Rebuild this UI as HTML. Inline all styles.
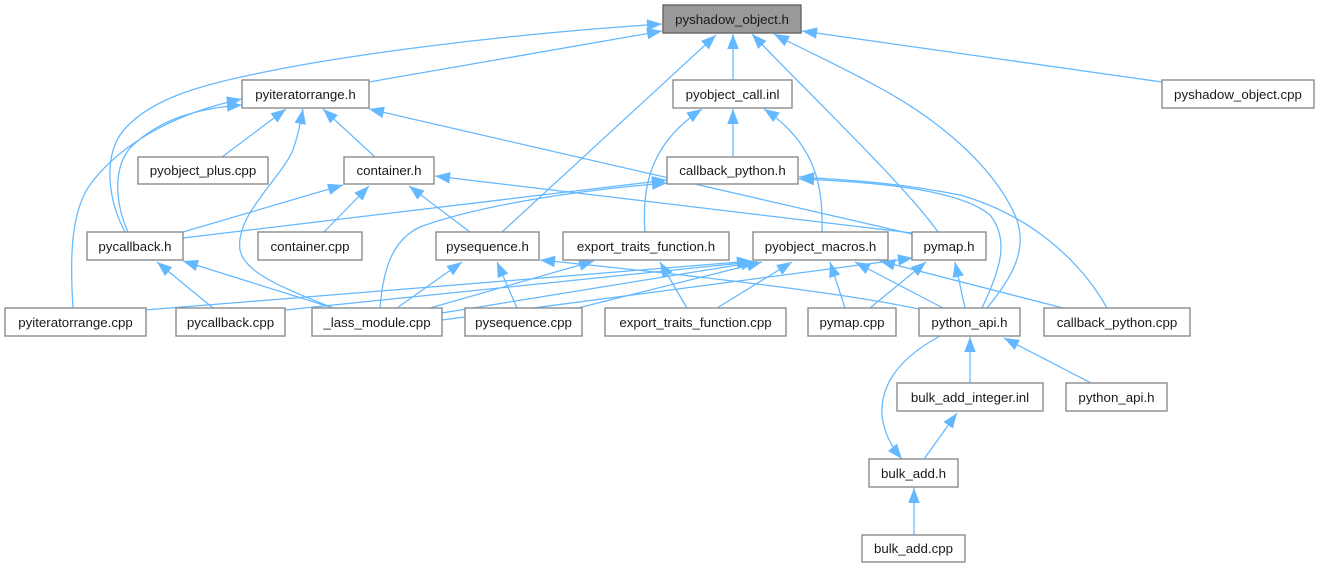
<!DOCTYPE html>
<html>
<head>
<meta charset="utf-8">
<style>
html,body{margin:0;padding:0;background:#fff;}
svg{display:block;}
text{font-family:"Liberation Sans","DejaVu Sans",sans-serif;font-size:13.3px;fill:#1a1a1a;text-anchor:middle;}
.e{fill:none;stroke:#63b8ff;stroke-width:1.25;marker-end:url(#ah);}
.b{fill:#fff;stroke:#8c8c8c;stroke-width:1.4;}
</style>
</head>
<body>
<svg width="1319" height="568" viewBox="0 0 1319 568" xmlns="http://www.w3.org/2000/svg">
<defs>
<marker id="ah" markerUnits="userSpaceOnUse" markerWidth="16" markerHeight="12" refX="15" refY="5.75" orient="auto" overflow="visible">
<path d="M0,0 L15,5.75 L0,11.5 z" fill="#63b8ff"/>
</marker>
</defs>

<!-- edges to pyshadow_object.h -->
<path class="e" d="M369,82 L662,31"/>
<path class="e" d="M125,232 C108,200 104,160 120,135 C145,100 200,85 260,73 C330,58 480,36 662,24"/>
<path class="e" d="M502,232 L716,35"/>
<path class="e" d="M733,80 L733,34"/>
<path class="e" d="M938,232 C905,185 800,85 752,34"/>
<path class="e" d="M987,308 C1010,280 1030,250 1015,215 C990,160 930,115 880,88 C840,66 800,48 774,34"/>
<path class="e" d="M1162,82 L802,31"/>

<!-- edges to pyiteratorrange.h -->
<path class="e" d="M222,157 L286,109"/>
<path class="e" d="M375,157 L323,109"/>
<path class="e" d="M333,308 C290,290 245,275 240,250 C235,215 280,180 293,150 C298,135 300,125 303,109"/>
<path class="e" d="M912,234 L369,109"/>
<path class="e" d="M128,232 C116,205 112,170 130,148 C160,118 200,108 242,105"/>
<path class="e" d="M73,308 C70,260 70,210 92,182 C125,140 180,112 242,99"/>

<!-- edges to pyobject_call.inl -->
<path class="e" d="M733,157 L733,109"/>
<path class="e" d="M645,232 C642,190 648,145 702,109"/>
<path class="e" d="M822,232 C823,190 818,145 764,109"/>

<!-- edges to callback_python.h -->
<path class="e" d="M183,238 L667,180"/>
<path class="e" d="M380,308 C383,270 392,240 420,227 C480,205 580,190 667,183"/>
<path class="e" d="M982,308 C1000,270 1010,240 990,215 C960,190 880,182 799,179"/>
<path class="e" d="M1107,308 C1080,260 1030,215 960,195 C900,183 850,180 799,177"/>

<!-- edges to container.h -->
<path class="e" d="M183,232 L343,185"/>
<path class="e" d="M324,232 L369,186"/>
<path class="e" d="M470,232 L409,186"/>
<path class="e" d="M912,233 L435,176"/>

<!-- edges to pycallback.h -->
<path class="e" d="M213,308 L157,262"/>
<path class="e" d="M333,308 L183,261"/>

<!-- edges to pysequence.h -->
<path class="e" d="M397,308 L462,262"/>
<path class="e" d="M517,308 L497,262"/>
<path class="e" d="M919,309 Q820,288 540,260"/>

<!-- edges to export_traits_function.h -->
<path class="e" d="M430,308 L594,261"/>
<path class="e" d="M687,308 L660,262"/>

<!-- edges to pyobject_macros.h -->
<path class="e" d="M145,310 L752,261"/>
<path class="e" d="M285,310 L752,262"/>
<path class="e" d="M442,313 L756,262"/>
<path class="e" d="M578,308 L762,262"/>
<path class="e" d="M717,308 L792,262"/>
<path class="e" d="M845,308 L830,262"/>
<path class="e" d="M943,308 L855,262"/>
<path class="e" d="M1063,308 L880,261"/>

<!-- edges to pymap.h -->
<path class="e" d="M442,320 L913,258"/>
<path class="e" d="M870,308 L926,262"/>
<path class="e" d="M965,308 L955,262"/>

<!-- lower part -->
<path class="e" d="M970,383 L970,337"/>
<path class="e" d="M1091,383 L1004,338"/>
<path class="e" d="M940,336 C905,355 880,380 882,415 C884,435 893,448 902,459"/>
<path class="e" d="M924,459 L957,413"/>
<path class="e" d="M914,535 L914,488"/>

<!-- nodes -->
<rect x="663" y="5" width="138" height="28" fill="#999999" stroke="#666666" stroke-width="1.4"/>
<text x="732" y="24">pyshadow_object.h</text>

<rect class="b" x="242" y="80" width="127" height="28"/>
<text x="305.5" y="99">pyiteratorrange.h</text>

<rect class="b" x="673" y="80" width="119" height="28"/>
<text x="732.5" y="99">pyobject_call.inl</text>

<rect class="b" x="1162" y="80" width="152" height="28"/>
<text x="1238" y="99">pyshadow_object.cpp</text>

<rect class="b" x="138" y="157" width="130" height="27"/>
<text x="203" y="175">pyobject_plus.cpp</text>

<rect class="b" x="344" y="157" width="90" height="27"/>
<text x="389" y="175">container.h</text>

<rect class="b" x="667" y="157" width="131" height="27"/>
<text x="732.5" y="175">callback_python.h</text>

<rect class="b" x="87" y="232" width="96" height="28"/>
<text x="135" y="251">pycallback.h</text>

<rect class="b" x="258" y="232" width="104" height="28"/>
<text x="310" y="251">container.cpp</text>

<rect class="b" x="436" y="232" width="103" height="28"/>
<text x="487.5" y="251">pysequence.h</text>

<rect class="b" x="563" y="232" width="166" height="28"/>
<text x="646" y="251">export_traits_function.h</text>

<rect class="b" x="753" y="232" width="135" height="28"/>
<text x="820.5" y="251">pyobject_macros.h</text>

<rect class="b" x="912" y="232" width="74" height="28"/>
<text x="949" y="251">pymap.h</text>

<rect class="b" x="5" y="308" width="141" height="28"/>
<text x="75.5" y="327">pyiteratorrange.cpp</text>

<rect class="b" x="176" y="308" width="109" height="28"/>
<text x="230.5" y="327">pycallback.cpp</text>

<rect class="b" x="312" y="308" width="130" height="28"/>
<text x="377" y="327">_lass_module.cpp</text>

<rect class="b" x="465" y="308" width="117" height="28"/>
<text x="523.5" y="327">pysequence.cpp</text>

<rect class="b" x="605" y="308" width="181" height="28"/>
<text x="695.5" y="327">export_traits_function.cpp</text>

<rect class="b" x="808" y="308" width="88" height="28"/>
<text x="852" y="327">pymap.cpp</text>

<rect class="b" x="919" y="308" width="101" height="28"/>
<text x="969.5" y="327">python_api.h</text>

<rect class="b" x="1044" y="308" width="146" height="28"/>
<text x="1117" y="327">callback_python.cpp</text>

<rect class="b" x="897" y="383" width="146" height="28"/>
<text x="970" y="402">bulk_add_integer.inl</text>

<rect class="b" x="1066" y="383" width="101" height="28"/>
<text x="1116.5" y="402">python_api.h</text>

<rect class="b" x="869" y="459" width="89" height="28"/>
<text x="913.5" y="478">bulk_add.h</text>

<rect class="b" x="862" y="535" width="103" height="27"/>
<text x="913.5" y="553">bulk_add.cpp</text>
</svg>
</body>
</html>
